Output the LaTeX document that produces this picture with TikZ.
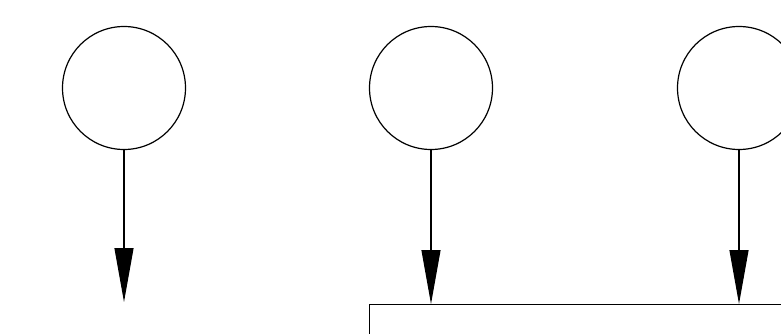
\documentclass[tikz,border=0pt]{standalone}
\usetikzlibrary{arrows.meta}
\begin{document}
\begin{tikzpicture}[x=1pt,y=-1pt,
  circ/.style={draw=black,circle,line width=1.2pt,minimum size=123pt,inner sep=0pt},
  boxnode/.style={draw=black,rectangle,line width=1.3pt,minimum width=700pt,minimum height=200pt,anchor=north west,inner sep=0pt},
  conn/.style={draw=black,line width=1.2pt,-{Triangle[length=54pt,width=19pt]}}]
\useasboundingbox (0,0) rectangle (781,334);
\clip (0,0) rectangle (781,334);
\fill[white] (0,0) rectangle (781,334);
\node[circ] (c1) at (124,88) {};
\node[circ] (c2) at (431,88) {};
\node[circ] (c3) at (739,88) {};
\node[boxnode] (box) at (369,304) {};
\coordinate (e1) at (124,302);
\draw[conn] (c1.south) -- (e1);
\draw[conn] (c2.south) -- (c2.south |- box.north);
\draw[conn] (c3.south) -- (c3.south |- box.north);
\end{tikzpicture}
\end{document}
